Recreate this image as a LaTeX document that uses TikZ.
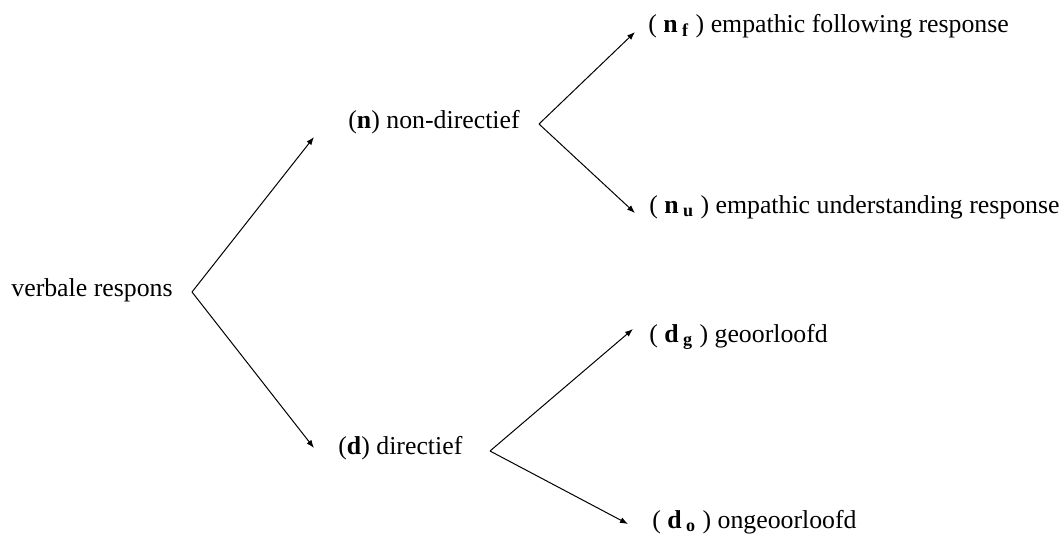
\documentclass[tikz,border=0pt]{standalone}
\usepackage{fontspec}
\setmainfont{Liberation Serif}
\usetikzlibrary{arrows.meta}
\tikzset{
  lbl/.style={anchor=base west, inner sep=0pt, font=\fontsize{12.9}{15}\selectfont},
  conn/.style={line width=0.5pt, -{Latex[length=4pt,width=3pt]}}
}
\begin{document}
\begin{tikzpicture}[x=0.5pt,y=-0.5pt]
\useasboundingbox (0,0) rectangle (1063,537);
% labels
\node[lbl] (vr) at (11,296.5) {verbale respons};
\node[lbl] (n) at (348,128) {(\textbf{n}) non-directief};
\node[lbl] (d) at (338,454) {(\textbf{d}) directief};
\node[lbl] (nf) at (648,32) {( \textbf{n}\,\textsubscript{\textbf{f}} ) empathic following response};
\node[lbl] (nu) at (649,213) {( \textbf{n}\,\textsubscript{\textbf{u}} ) empathic understanding response};
\node[lbl] (dg) at (649,342) {( \textbf{d}\,\textsubscript{\textbf{g}} ) geoorloofd};
\node[lbl] (do) at (652,528) {( \textbf{d}\,\textsubscript{\textbf{o}} ) ongeoorloofd};
% branch points and arrow ends
\coordinate (vrv) at (192,292);
\coordinate (vrn) at (314,137);
\coordinate (vrd) at (314,448);
\coordinate (nv) at (539,124);
\coordinate (nnf) at (635,32);
\coordinate (nnu) at (635,213);
\coordinate (dv) at (490,451);
\coordinate (ddg) at (633,329);
\coordinate (ddo) at (628,524);
% connectors
\draw[conn] (vrv) -- (vrn);
\draw[conn] (vrv) -- (vrd);
\draw[conn] (nv) -- (nnf);
\draw[conn] (nv) -- (nnu);
\draw[conn] (dv) -- (ddg);
\draw[conn] (dv) -- (ddo);
\end{tikzpicture}
\end{document}
